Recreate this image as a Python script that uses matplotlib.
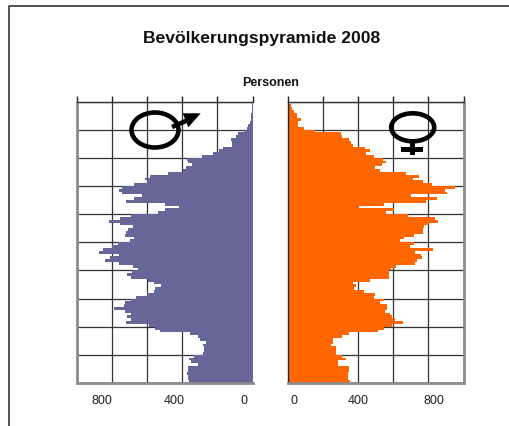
import matplotlib as mpl

mpl.rcParams['font.family'] = ['Liberation Sans', 'DejaVu Sans']
import matplotlib.pyplot as plt
from matplotlib.patches import Ellipse, Polygon, Rectangle
import numpy as np

# Personen je Altersjahr, von 0 bis 99
maenner = [360, 367, 369, 371, 369, 364, 309, 350, 358, 331,
           282, 278, 278, 282, 263, 297, 312, 354, 528, 553,
           587, 718, 689, 712, 691, 727, 786, 729, 727, 691,
           661, 600, 557, 553, 519, 557, 596, 689, 712, 686,
           648, 680, 756, 837, 809, 761, 871, 852, 799, 767,
           695, 672, 723, 720, 705, 680, 755, 814, 755, 689,
           535, 500, 420, 500, 718, 672, 629, 739, 756, 739,
           672, 600, 610, 581, 481, 396, 377, 343, 369, 373,
           288, 227, 188, 165, 114, 114, 121, 95, 83, 51,
           32, 23, 13, 10, 8, 6, 5, 5, 2, 1]
frauen = [356, 343, 343, 343, 350, 350, 288, 288, 333, 310,
          275, 275, 275, 248, 256, 256, 310, 350, 515, 549,
          593, 657, 612, 593, 583, 555, 564, 564, 523, 549,
          492, 498, 432, 379, 390, 371, 470, 578, 578, 578,
          587, 617, 725, 737, 765, 758, 722, 828, 697, 720,
          640, 663, 720, 770, 771, 777, 805, 856, 839, 686,
          560, 606, 407, 549, 788, 850, 703, 907, 896, 953,
          822, 771, 714, 748, 674, 526, 498, 538, 560, 545,
          492, 447, 470, 441, 371, 362, 352, 311, 305, 157,
          91, 62, 62, 78, 55, 55, 36, 28, 19, 11]
alter = np.arange(100)

titel = 'Bevölkerungspyramide 2008'
achse = 'Personen'
labels_links = ['800', '400', '0']
labels_rechts = ['0', '400', '800']

W, H = 509, 426


def make_ax(x0, x1, y0=101.5, y1=383):
    return fig.add_axes([x0 / W, 1 - y1 / H, (x1 - x0) / W, (y1 - y0) / H])


def style(ax):
    ax.set_ylim(0, 100)
    ax.set_xticks(np.arange(0, 1001, 200))
    ax.set_yticks(np.arange(0, 101, 10))
    ax.xaxis.tick_top()
    ax.tick_params(axis='x', length=4, width=1, color='#222222', labeltop=False)
    ax.tick_params(axis='y', length=0, labelleft=False, labelright=False)
    ax.grid(True, color='#333333', lw=0.9)
    ax.set_axisbelow(True)
    for s in ax.spines.values():
        s.set_visible(False)
    ax.spines['top'].set_visible(True)
    ax.spines['top'].set_color('#333333')
    ax.spines['top'].set_linewidth(1)
    ax.spines['bottom'].set_visible(True)
    ax.spines['bottom'].set_color('#8c8c8c')
    ax.spines['bottom'].set_linewidth(2)


fig = plt.figure(figsize=(W / 100, H / 100), dpi=100)

# linke Seite
ax1 = make_ax(76.5, 252.5)
ax1.barh(alter, maenner, height=1, align='edge', color='#666699', lw=0, antialiased=False)
ax1.set_xlim(1000, 0)
style(ax1)
ax1.spines['left'].set_visible(True)
ax1.spines['left'].set_color('#8c8c8c')
ax1.spines['left'].set_linewidth(2)

# rechte Seite
ax2 = make_ax(287.5, 463.5)
ax2.barh(alter, frauen, height=1, align='edge', color='#FF6600', lw=0, antialiased=False)
ax2.set_xlim(0, 1000)
style(ax2)
ax2.spines['right'].set_visible(True)
ax2.spines['right'].set_color('#8c8c8c')
ax2.spines['right'].set_linewidth(2)
ax2.spines['left'].set_visible(True)
ax2.spines['left'].set_color('#222222')
ax2.spines['left'].set_linewidth(1)

# Rahmen, Texte und Symbole in Pixelkoordinaten
ov = fig.add_axes([0, 0, 1, 1], zorder=5)
ov.set_xlim(0, W)
ov.set_ylim(H, 0)
ov.axis('off')
ov.plot([9.5, 9.5, W], [H, 6, 6], color='#333333', lw=1.2)

ov.text(261.5, 38, titel, ha='center', va='center', fontsize=12.6, fontweight='bold', color='#111111')
ov.text(271, 83, achse, ha='center', va='center', fontsize=9, fontweight='bold', color='#111111')
for x, t in zip([101.7, 174, 244], labels_links):
    ov.text(x, 400.5, t, ha='center', va='center', fontsize=9, color='#222222')
for x, t in zip([294.5, 358.5, 434], labels_rechts):
    ov.text(x, 400.5, t, ha='center', va='center', fontsize=9, color='#222222')

# Symbol Mann
ov.add_patch(Ellipse((155, 130), 47, 35, fc='none', ec='black', lw=3.3))
ov.plot([172, 188], [127, 120], color='black', lw=3.3, solid_capstyle='butt')
ov.add_patch(Polygon([(182.7, 113.3), (200.7, 113.3), (188.3, 127.3)], fc='black', ec='none'))

# Symbol Frau
ov.add_patch(Ellipse((412.7, 127.3), 43, 28, fc='none', ec='black', lw=3.3))
ov.add_patch(Rectangle((410, 142), 5.5, 12.5, fc='black', ec='none'))
ov.add_patch(Rectangle((401.3, 146.7), 22, 5.5, fc='black', ec='none'))

fig.savefig('out.png', dpi=100)
